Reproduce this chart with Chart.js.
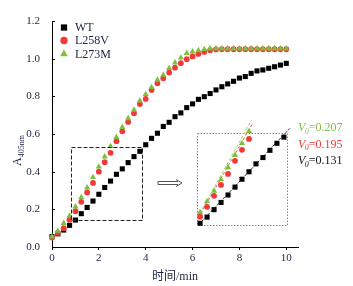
<!DOCTYPE html>
<html>
<head>
<meta charset="utf-8">
<script src="https://cdn.jsdelivr.net/npm/chart.js@4/dist/chart.umd.min.js"></script>
<style>
  body { margin: 0; background: #fff; }
  #wrap { position: relative; width: 353px; height: 286px; }
  #inset { position: absolute; left: 190px; top: 110px; }
</style>
</head>
<body>
<div id="wrap">
  <canvas id="mainCanvas" width="353" height="286"></canvas>
  <canvas id="inset" width="115" height="125"></canvas>
</div>
<script>
// time points (min)
const times = [0, 0.25, 0.5, 0.75, 1, 1.25, 1.5, 1.75, 2, 2.25, 2.5, 2.75, 3, 3.25, 3.5, 3.75,
  4, 4.25, 4.5, 4.75, 5, 5.25, 5.5, 5.75, 6, 6.25, 6.5, 6.75, 7, 7.25, 7.5, 7.75,
  8, 8.25, 8.5, 8.75, 9, 9.25, 9.5, 9.75, 10];

// A405nm readings
const wt = [0.055, 0.07, 0.09, 0.115, 0.143, 0.177, 0.21, 0.244, 0.28, 0.316, 0.35, 0.386, 0.415, 0.448, 0.48, 0.508,
  0.543, 0.577, 0.604, 0.64, 0.662, 0.692, 0.712, 0.74, 0.76, 0.784, 0.798, 0.815, 0.834, 0.851, 0.866, 0.88,
  0.897, 0.905, 0.922, 0.935, 0.94, 0.949, 0.957, 0.966, 0.975];
const l258v = [0.05, 0.075, 0.10, 0.145, 0.19, 0.24, 0.29, 0.34, 0.40, 0.45, 0.50, 0.562, 0.614, 0.664, 0.71, 0.759,
  0.786, 0.834, 0.869, 0.896, 0.926, 0.952, 0.976, 0.997, 1.012, 1.025, 1.036, 1.045, 1.049, 1.05, 1.05, 1.05,
  1.05, 1.05, 1.05, 1.05, 1.05, 1.05, 1.05, 1.05, 1.05];
const l273m = [0.055, 0.085, 0.127, 0.165, 0.214, 0.263, 0.315, 0.37, 0.426, 0.48, 0.535, 0.583, 0.636, 0.683, 0.728, 0.777,
  0.811, 0.848, 0.887, 0.913, 0.949, 0.979, 1.005, 1.029, 1.037, 1.044, 1.05, 1.053, 1.053, 1.053, 1.053, 1.053,
  1.053, 1.053, 1.053, 1.053, 1.053, 1.053, 1.053, 1.053, 1.053];

const seriesNames = ['WT', 'L258V', 'L273M'];
const v0Labels = ['0.207', '0.195', '0.131']; // L273M, L258V, WT

// initial-rate fit lines shown in the inset (two end points each)
const fitWtX = [0.69, 3.96], fitWtY = [0.107, 0.548];
const fitL258vX = [0.68, 2.64], fitL258vY = [0.139, 0.573];
const fitL273mX = [0.75, 2.59], fitL273mY = [0.162, 0.586];

// zoomed region (x0, x1, y0, y1)
const zoomBox = [0.79, 3.81, 0.143, 0.53];

const xTicks = [0, 2, 4, 6, 8, 10];
const yTicks = [0, 0.2, 0.4, 0.6, 0.8, 1.0, 1.2];

const SERIF = "'Liberation Serif', 'Noto Sans CJK SC', serif";
const TEXT = '#1c2340';
const RED = '#f03a3a';
const GREEN = '#7fbf3f';

function pts(xs, ys) {
  return xs.map((x, i) => ({ x: x, y: ys[i] }));
}

const styles = [
  { pointStyle: 'rect', radius: 3.6, color: '#000' },
  { pointStyle: 'circle', radius: 2.9, color: RED },
  { pointStyle: 'triangle', radius: 3.6, color: GREEN }
];
const values = [wt, l258v, l273m];

function scatterSets(filter) {
  return values.map((v, i) => ({
    label: seriesNames[i],
    data: pts(times, v).filter(filter),
    showLine: false,
    pointStyle: styles[i].pointStyle,
    pointRadius: styles[i].radius,
    pointBackgroundColor: styles[i].color,
    pointBorderWidth: 0,
    order: 2 - i,
    clip: false
  }));
}

const decorPlugin = {
  id: 'decor',
  afterDraw(chart) {
    const ctx = chart.ctx;
    const xs = chart.scales.x, ys = chart.scales.y;
    const area = chart.chartArea;
    ctx.save();

    // inward y tick marks
    ctx.strokeStyle = '#000';
    ctx.lineWidth = 1;
    yTicks.forEach(v => {
      const y = Math.round(ys.getPixelForValue(v)) + 0.5;
      ctx.beginPath();
      ctx.moveTo(area.left, y);
      ctx.lineTo(area.left + 3, y);
      ctx.stroke();
    });

    // dashed zoom rectangle
    ctx.setLineDash([4, 2]);
    ctx.strokeStyle = '#222';
    const x0 = xs.getPixelForValue(zoomBox[0]), x1 = xs.getPixelForValue(zoomBox[1]);
    const y0 = ys.getPixelForValue(zoomBox[2]), y1 = ys.getPixelForValue(zoomBox[3]);
    ctx.strokeRect(Math.round(x0) + 0.5, Math.round(y1) + 0.5, Math.round(x1 - x0), Math.round(y0 - y1));
    ctx.setLineDash([]);

    // hollow arrow
    ctx.strokeStyle = '#555';
    ctx.beginPath();
    ctx.moveTo(158, 181.5); ctx.lineTo(178, 181.5);
    ctx.moveTo(158, 184.5); ctx.lineTo(178, 184.5);
    ctx.moveTo(158, 181.5); ctx.lineTo(158, 184.5);
    ctx.moveTo(176, 179.5); ctx.lineTo(182, 183); ctx.lineTo(176, 186.5);
    ctx.stroke();

    // legend
    const rows = [27.5, 40.5, 54];
    ctx.font = '12px ' + SERIF;
    ctx.textBaseline = 'middle';
    ctx.textAlign = 'left';
    seriesNames.forEach((name, i) => {
      ctx.fillStyle = styles[i].color;
      Chart.helpers.drawPoint(ctx, { pointStyle: styles[i].pointStyle, radius: styles[i].radius + 0.8, rotation: 0, borderWidth: 0 }, 64, rows[i]);
      ctx.fillStyle = TEXT;
      ctx.fillText(name, 75, rows[i] + 0.5);
    });

    // y axis title A405nm
    ctx.translate(18, 166);
    ctx.rotate(-Math.PI / 2);
    ctx.fillStyle = TEXT;
    ctx.font = '12px ' + SERIF;
    ctx.fillText('A', 0, 0);
    const wA = ctx.measureText('A').width;
    ctx.font = '8px ' + SERIF;
    ctx.fillText('405nm', wA, 4);
    ctx.setTransform(1, 0, 0, 1, 0, 0);

    // V0 labels
    const labColors = [GREEN, RED, '#111'];
    const labY = [128, 144.5, 161];
    v0Labels.forEach((t, i) => {
      let x = 298;
      ctx.fillStyle = labColors[i];
      ctx.font = 'italic 12px ' + SERIF;
      ctx.fillText('V', x, labY[i]);
      x += ctx.measureText('V').width;
      ctx.font = 'italic 8px ' + SERIF;
      ctx.fillText('0', x - 0.5, labY[i] + 3.5);
      x += ctx.measureText('0').width - 0.5;
      ctx.font = '12px ' + SERIF;
      ctx.fillText('=' + t, x, labY[i]);
    });
    ctx.restore();
  }
};

new Chart(document.getElementById('mainCanvas').getContext('2d'), {
  type: 'line',
  data: { datasets: scatterSets(() => true) },
  options: {
    responsive: false,
    animation: false,
    layout: { padding: { left: 0, top: 21, right: 55, bottom: 0 } },
    plugins: { legend: { display: false }, tooltip: { enabled: false } },
    scales: {
      x: {
        type: 'linear', min: 0, max: 10.5,
        afterBuildTicks: s => { s.ticks = xTicks.map(v => ({ value: v })); },
        afterFit: s => { s.height = 39; },
        ticks: { padding: 2, maxRotation: 0, autoSkip: false, color: TEXT, font: { family: SERIF, size: 11 } },
        grid: { drawOnChartArea: false, tickLength: 3, color: '#000' },
        border: { color: '#000', width: 1 },
        title: { display: true, text: '时间/min', color: TEXT, font: { family: SERIF, size: 12 }, padding: { top: 0, bottom: 2 } }
      },
      y: {
        min: 0, max: 1.2,
        afterBuildTicks: s => { s.ticks = yTicks.map(v => ({ value: v })); },
        afterFit: s => { s.width = 52; },
        ticks: { padding: 12, color: TEXT, font: { family: SERIF, size: 11 }, callback: v => v.toFixed(1) },
        grid: { drawOnChartArea: false, drawTicks: false },
        border: { color: '#000', width: 1 }
      }
    }
  },
  plugins: [decorPlugin]
});

// inset
const boxPlugin = {
  id: 'box',
  beforeDatasetsDraw(chart) {
    const a = chart.chartArea, ctx = chart.ctx;
    ctx.save();
    ctx.setLineDash([1.5, 1.5]);
    ctx.strokeStyle = '#888';
    ctx.lineWidth = 1;
    ctx.strokeRect(Math.round(a.left) + 0.5, Math.round(a.top) + 0.5, Math.round(a.right - a.left), Math.round(a.bottom - a.top));
    ctx.restore();
  }
};

function fitSet(xs, ys, color, dash) {
  return {
    data: pts(xs, ys), borderColor: color, borderWidth: 1, borderDash: dash,
    pointRadius: 0, clip: false, order: 5
  };
}

const insetSets = scatterSets(p => p.x >= 0.75 && p.x <= 3.75 && p.y <= 0.535)
  .concat([
    fitSet(fitWtX, fitWtY, '#333', [3, 1.5]),
    fitSet(fitL258vX, fitL258vY, '#f06060', [3, 2]),
    fitSet(fitL273mX, fitL273mY, '#9fd070', [3, 2])
  ]);

new Chart(document.getElementById('inset').getContext('2d'), {
  type: 'line',
  data: { datasets: insetSets },
  options: {
    responsive: false,
    animation: false,
    layout: { padding: { left: 7, top: 23, right: 18, bottom: 10 } },
    plugins: { legend: { display: false }, tooltip: { enabled: false } },
    scales: {
      x: { type: 'linear', display: false, min: 0.64, max: 3.86 },
      y: { display: false, min: 0.107, max: 0.527 }
    }
  },
  plugins: [boxPlugin]
});
</script>
</body>
</html>
